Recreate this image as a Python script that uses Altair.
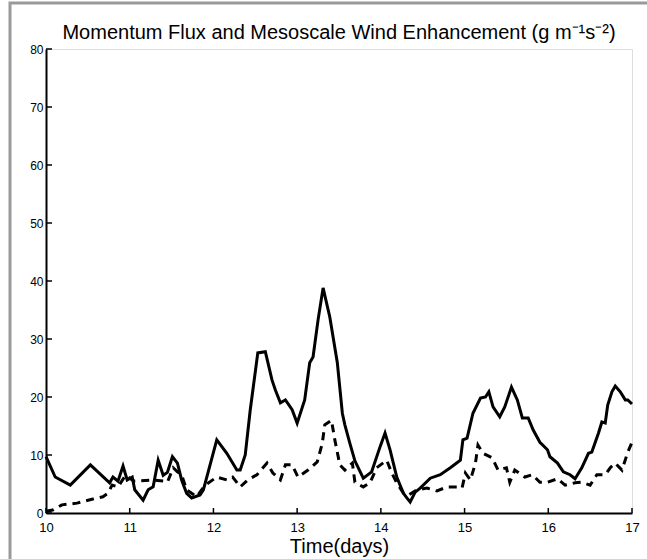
import altair as alt
import pandas as pd

# Solid line: momentum flux
solid_day = [10.00, 10.11, 10.29, 10.53, 10.76, 10.80, 10.86, 10.92, 10.97, 11.03,
             11.06, 11.16, 11.22, 11.28, 11.34, 11.40, 11.45, 11.51, 11.57, 11.62,
             11.68, 11.74, 11.84, 11.88, 12.04, 12.16, 12.28, 12.32, 12.38, 12.44,
             12.53, 12.62, 12.70, 12.74, 12.80, 12.86, 12.94, 13.00, 13.09, 13.15,
             13.19, 13.25, 13.31, 13.39, 13.48, 13.54, 13.57, 13.63, 13.69, 13.79,
             13.89, 13.99, 14.05, 14.11, 14.19, 14.27, 14.31, 14.35, 14.41, 14.47,
             14.59, 14.71, 14.83, 14.95, 14.98, 15.03, 15.10, 15.19, 15.25, 15.29,
             15.34, 15.42, 15.48, 15.56, 15.63, 15.69, 15.76, 15.82, 15.90, 15.99,
             16.02, 16.11, 16.18, 16.26, 16.32, 16.40, 16.48, 16.52, 16.60, 16.64,
             16.68, 16.71, 16.76, 16.80, 16.86, 16.92, 16.95, 17.00]
solid_val = [9.7, 6.2, 4.8, 8.3, 5.2, 6.2, 5.5, 8.1, 5.7, 6.2,
             4.0, 2.2, 4.0, 4.5, 9.1, 6.5, 7.0, 9.7, 8.6, 5.7,
             3.4, 2.6, 3.1, 4.0, 12.6, 10.3, 7.4, 7.4, 10.0, 17.8,
             27.6, 27.8, 22.9, 21.2, 19.0, 19.5, 17.8, 15.5, 19.5, 25.9,
             26.9, 33.3, 38.8, 33.8, 25.9, 17.2, 15.2, 12.0, 9.0, 6.0,
             7.1, 11.4, 13.8, 10.9, 6.2, 3.4, 2.6, 1.9, 3.6, 4.3,
             6.0, 6.6, 7.8, 9.1, 12.6, 12.9, 17.2, 19.8, 20.0, 20.9,
             18.3, 16.6, 18.3, 21.7, 19.5, 16.4, 16.4, 14.3, 12.2, 10.9,
             9.7, 8.6, 7.1, 6.6, 5.9, 7.8, 10.3, 10.5, 13.8, 15.7,
             15.5, 18.6, 20.9, 21.9, 20.9, 19.5, 19.5, 18.8]

# Dashed line: mesoscale wind enhancement
dash_day = [10.00, 10.08, 10.19, 10.37, 10.56, 10.68, 10.74, 10.79, 10.86, 10.95,
            11.05, 11.28, 11.40, 11.45, 11.52, 11.57, 11.62, 11.68, 11.80, 11.90,
            12.04, 12.16, 12.23, 12.32, 12.41, 12.52, 12.64, 12.71, 12.80, 12.86,
            12.94, 13.01, 13.13, 13.24, 13.30, 13.33, 13.41, 13.45, 13.51, 13.57,
            13.66, 13.69, 13.79, 13.87, 13.95, 14.07, 14.13, 14.19, 14.27, 14.33,
            14.43, 14.55, 14.67, 14.79, 14.91, 14.97, 15.01, 15.07, 15.13, 15.16,
            15.22, 15.33, 15.40, 15.50, 15.54, 15.60, 15.72, 15.81, 15.90, 15.99,
            16.11, 16.20, 16.32, 16.40, 16.50, 16.58, 16.68, 16.74, 16.80, 16.88,
            16.95, 17.00]
dash_val = [0.3, 0.5, 1.4, 1.7, 2.4, 2.8, 3.4, 4.8, 4.5, 6.5,
            5.5, 5.7, 5.5, 5.3, 7.8, 7.1, 6.6, 4.0, 2.8, 4.8,
            6.2, 5.7, 6.2, 4.5, 5.7, 6.6, 8.6, 6.9, 5.7, 8.3,
            8.3, 6.2, 7.4, 8.8, 12.0, 15.2, 16.0, 12.6, 8.3, 7.4,
            8.6, 5.3, 4.5, 5.2, 7.8, 9.1, 6.9, 5.2, 3.4, 3.1,
            4.0, 4.3, 3.8, 4.5, 4.5, 4.3, 6.9, 5.7, 8.6, 11.7,
            10.3, 9.5, 7.4, 7.8, 5.3, 7.4, 6.2, 6.6, 5.3, 5.3,
            5.9, 4.8, 5.2, 5.3, 4.8, 6.6, 6.6, 7.8, 8.6, 7.4,
            10.5, 12.2]

x_ticks = [10, 11, 12, 13, 14, 15, 16, 17]
y_ticks = [0, 10, 20, 30, 40, 50, 60, 70, 80]
title_text = "Momentum Flux and Mesoscale Wind Enhancement (g m⁻¹s⁻²)"

W, H = 586, 464
FONT = "Liberation Sans"

solid_df = pd.DataFrame({"day": solid_day, "val": solid_val})
dash_df = pd.DataFrame({"day": dash_day, "val": dash_val})

xscale = alt.Scale(domain=[10, 17], nice=False, zero=False)
yscale = alt.Scale(domain=[0, 80], nice=False)

xaxis = alt.Axis(values=x_ticks, format="d", title="Time(days)", ticks=False, grid=False,
                 domainColor="black", domainWidth=2, labelFontSize=13,
                 labelFont=FONT, labelColor="black", labelPadding=8,
                 titleFont=FONT, titleFontSize=20, titleFontWeight="normal",
                 titleColor="black", titlePadding=2, labelFlush=False)
yaxis = alt.Axis(values=y_ticks, format="d", title=None, ticks=False, grid=False,
                 domainColor="black", domainWidth=2, labelFontSize=12,
                 labelFont=FONT, labelColor="black", labelPadding=3)

solid = alt.Chart(solid_df).mark_line(color="black", strokeWidth=3).encode(
    x=alt.X("day:Q", scale=xscale, axis=xaxis),
    y=alt.Y("val:Q", scale=yscale, axis=yaxis),
)
dashed = alt.Chart(dash_df).mark_line(color="black", strokeWidth=3,
                                      strokeDash=[8, 6]).encode(
    x=alt.X("day:Q", scale=xscale),
    y=alt.Y("val:Q", scale=yscale),
)

xt = alt.Chart(pd.DataFrame({"t": x_ticks})).mark_rule(color="black", strokeWidth=1.5).encode(
    x=alt.X("t:Q", scale=xscale), y=alt.value(H), y2=alt.value(H - 5))
yt = alt.Chart(pd.DataFrame({"t": y_ticks})).mark_rule(color="black", strokeWidth=1.5).encode(
    y=alt.Y("t:Q", scale=yscale), x=alt.value(0), x2=alt.value(6))

frame = alt.Chart(pd.DataFrame({"a": [0]})).mark_rect(
    fill=None, stroke="#9a9a9a", strokeWidth=3, clip=False).encode(
    x=alt.value(-36), x2=alt.value(680), y=alt.value(-46), y2=alt.value(560))

title = alt.Chart(pd.DataFrame({"t": [title_text]})).mark_text(
    font=FONT, fontSize=20, color="black", align="center", baseline="alphabetic").encode(
    text="t:N", x=alt.value(W / 2), y=alt.value(-10))

chart = alt.layer(frame, dashed, solid, xt, yt, title).properties(
    width=W, height=H,
    autosize=alt.AutoSizeParams(type="none"),
    padding={"left": 46, "top": 49, "right": 15, "bottom": 46},
).configure_view(stroke=None).configure(background="white")

chart.save("out.html", embed_options={"renderer": "svg", "actions": False})
